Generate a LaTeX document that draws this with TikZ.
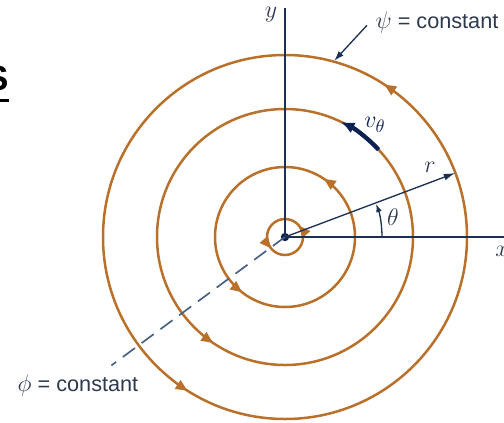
\documentclass[tikz,border=0pt]{standalone}
\usepackage{fontspec}
\setsansfont{Liberation Sans}
\usetikzlibrary{arrows.meta,decorations.markings}

\definecolor{streambrown}{RGB}{184,112,42}
\definecolor{axisnavy}{RGB}{30,48,82}
\definecolor{dashblue}{RGB}{72,96,130}
\definecolor{labelgray}{RGB}{45,58,78}
\definecolor{velnavy}{RGB}{14,34,82}

\tikzset{
    streamline/.style={streambrown, line width=1.5pt},
    axisline/.style={axisnavy, line width=1.1pt},
    thinline/.style={axisnavy, line width=0.8pt},
    lbl/.style={text=labelgray, font=\fontsize{15}{17}\selectfont, inner sep=1pt},
    wordlbl/.style={text=labelgray, font=\fontsize{13}{15}\selectfont\sffamily, inner sep=1pt},
}

\begin{document}
\begin{tikzpicture}[x=0.6pt, y=0.6pt]

    % Frame of the picture
    \useasboundingbox (-285,-185) rectangle (219,237);

    % Edge of the slide title
    \node[anchor=base east, inner sep=0pt, font=\fontsize{21}{24}\selectfont\sffamily\bfseries] (slidetitle) at (-276,147) {S};
    \draw[line width=1.8pt] (-295,137) -- (-276,137);

    % Streamlines with their arrows
    \foreach \r/\pa/\pb in {18/0.11/0.61, 70/0.156/0.645, 182/0.158/0.66} {
        \draw[streamline, postaction={decorate}, decoration={markings,
            mark=at position \pa with {\arrow{Triangle[length=7pt,width=6pt]}},
            mark=at position \pb with {\arrow{Triangle[length=7pt,width=6pt]}}}]
            (\r,0) arc[start angle=0, end angle=360, radius=\r];
    }
    \draw[streamline, postaction={decorate}, decoration={markings,
        mark=at position 0.655 with {\arrow{Triangle[length=7pt,width=6pt]}}}]
        (128,0) arc[start angle=0, end angle=360, radius=128];

    % Draw axes
    \node[circle, fill=velnavy, inner sep=0pt, minimum size=5pt] (o) at (0,0) {};
    \coordinate (ytop) at (0,229);
    \coordinate (xend) at (225,0);
    \draw[axisline] (o.center) -- (ytop);
    \draw[axisline] (o.center) -- (xend);
    \node[lbl] (ylabel) at (-14,222) {$y$};
    \node[lbl] (xlabel) at (217,-14) {$x$};

    % Radius and angle
    \coordinate (rtip) at (20.6:182);
    \draw[thinline, -{Latex[length=7pt,width=4pt]}] (o.center) -- (rtip);
    \node[lbl] (rlabel) at (145,70) {$r$};
    \draw[thinline, -{Latex[length=5pt,width=3.5pt]}] (97,0) arc[start angle=0, end angle=20, radius=97];
    \node[lbl] (thetalabel) at (108,20) {$\theta$};

    % Velocity along a streamline
    \draw[velnavy, line width=2.6pt, -{Latex[length=8pt,width=7pt]}]
        (43:128) arc[start angle=43, end angle=64, radius=128];
    \node[lbl, text=velnavy] (vlabel) at (90,112) {$v_\theta$};

    % Potential line
    \coordinate (phiend) at (216.5:216);
    \draw[dashblue, line width=1pt, dash pattern=on 9pt off 5pt] (o.center) -- (phiend);
    \node[wordlbl] (philabel) at (-207,-148) {{\fontsize{15}{17}\selectfont$\phi$} = constant};

    % Stream function label
    \node[wordlbl] (psilabel) at (152,215) {{\fontsize{15}{17}\selectfont$\psi$} = constant};
    \coordinate (psitip) at (74.4:183);
    \draw[thinline, -{Latex[length=6pt,width=4pt]}] ([xshift=-4pt,yshift=-2pt]psilabel.west) -- (psitip);

\end{tikzpicture}
\end{document}
